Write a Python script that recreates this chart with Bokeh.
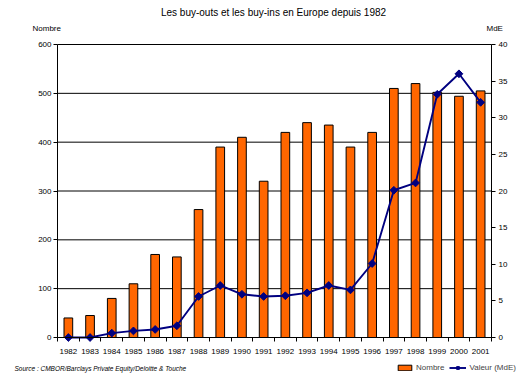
import math
from bokeh.plotting import figure
from bokeh.models import (Range1d, LinearAxis, FixedTicker, Label, Legend, LegendItem,
                          ColumnDataSource)
from bokeh.embed import file_html
from bokeh.resources import INLINE

years = [1982, 1983, 1984, 1985, 1986, 1987, 1988, 1989, 1990, 1991,
         1992, 1993, 1994, 1995, 1996, 1997, 1998, 1999, 2000, 2001]
nombre = [40, 45, 80, 110, 170, 165, 262, 390, 410, 320,
          420, 440, 435, 390, 420, 510, 520, 502, 494, 505]
valeur = [0.0, 0.0, 0.6, 0.9, 1.1, 1.6, 5.6, 7.1, 5.9, 5.6,
          5.7, 6.1, 7.1, 6.5, 10.1, 20.1, 21.1, 33.2, 36.0, 32.1]
left_ticks = [0, 100, 200, 300, 400, 500, 600]
right_ticks = [0, 5, 10, 15, 20, 25, 30, 35, 40]

FONT = "Liberation Sans"
ORANGE = "#FF6600"
NAVY = "#000080"

# canvas / plot-area geometry in pixels
W, H = 524, 379
PL, PR, PT, PB = 57, 491, 44, 337

x0, x1 = years[0] - 0.5, years[-1] + 0.5
ymax_l, ymax_r = left_ticks[-1], right_ticks[-1]
xs = (PR - PL) / (x1 - x0)
ys_l = (PB - PT) / ymax_l
ys_r = (PB - PT) / ymax_r

def X(px):
    return x0 + (px - PL) / xs

def Y(py):
    return (PB - py) / ys_l

src = ColumnDataSource(dict(year=years, nombre=nombre, valeur=valeur))

p = figure(width=W, height=H, output_backend="svg", toolbar_location=None,
           x_axis_type=None, y_axis_type=None,
           x_range=Range1d(X(0), X(W)),
           y_range=Range1d(Y(H), Y(0)),
           min_border=0,
           background_fill_color="white", border_fill_color="white")
p.outline_line_color = None
p.extra_y_ranges = {"val": Range1d(-(H - PB) / ys_r, PB / ys_r)}

# horizontal gridlines at the left-axis ticks
p.segment(x0=[x0] * len(left_ticks), x1=[x1] * len(left_ticks),
          y0=left_ticks, y1=left_ticks, line_color="black", line_width=1)

def style_axis(ax):
    ax.major_label_text_font = FONT
    ax.major_label_text_font_size = "8px"
    ax.major_label_text_color = "black"
    ax.axis_line_color = "black"
    ax.major_tick_line_color = "black"

# left axis
ya = LinearAxis(fixed_location=x0, bounds=(0, ymax_l), ticker=FixedTicker(ticks=left_ticks))
ya.major_tick_in = 0
ya.major_tick_out = 4
ya.minor_tick_line_color = None
ya.major_label_standoff = 2
style_axis(ya)
p.add_layout(ya, "left")

# right axis
ra = LinearAxis(y_range_name="val", fixed_location=x1, bounds=(0, ymax_r),
                ticker=FixedTicker(ticks=right_ticks))
ra.major_tick_in = 0
ra.major_tick_out = 4
ra.minor_tick_line_color = None
ra.major_label_standoff = 3
style_axis(ra)
p.add_layout(ra, "right")

# x axis
xa = LinearAxis(fixed_location=0, bounds=(x0, x1),
                ticker=FixedTicker(ticks=years,
                                   minor_ticks=[y - 0.5 for y in years] + [x1]))
style_axis(xa)
xa.major_tick_line_color = None
xa.major_tick_in = 0
xa.major_tick_out = 0
xa.minor_tick_in = 0
xa.minor_tick_out = 4
xa.minor_tick_line_color = "black"
xa.major_label_standoff = 7
p.add_layout(xa, "below")

bars = p.vbar(x="year", top="nombre", width=0.4, source=src,
              fill_color=ORANGE, line_color="black", line_width=1)
line = p.line(x="year", y="valeur", source=src, y_range_name="val",
              line_color=NAVY, line_width=1.9)
pts = p.scatter(x="year", y="valeur", source=src, y_range_name="val",
                marker="square", angle=math.pi / 4, size=5.5,
                fill_color=NAVY, line_color=NAVY)

legend = Legend(items=[LegendItem(label="Nombre", renderers=[bars]),
                       LegendItem(label="Valeur (MdE)", renderers=[line, pts])],
                location=(396, 7), orientation="horizontal",
                padding=0, spacing=5, margin=0,
                glyph_width=17, glyph_height=7, label_height=10,
                label_standoff=3,
                label_text_font=FONT, label_text_font_size="8px",
                border_line_color=None, background_fill_alpha=0)
p.add_layout(legend, "center")

def lab(text, px, py, size, align="left", style="normal"):
    p.add_layout(Label(x=X(px), y=Y(py), text=text,
                       text_font=FONT, text_font_size=size, text_align=align,
                       text_baseline="middle", text_font_style=style,
                       text_color="black"))

lab("Les buy-outs et les buy-ins en Europe depuis 1982", 273, 12, "10px", "center")
lab("Nombre", 32, 28, "8px")
lab("MdE", 486, 28, "8px")
lab("Source : CMBOR/Barclays Private Equity/Deloitte & Touche", 14, 368, "6.5px", "left", "italic")

open("out.html", "w").write(file_html(p, INLINE))
